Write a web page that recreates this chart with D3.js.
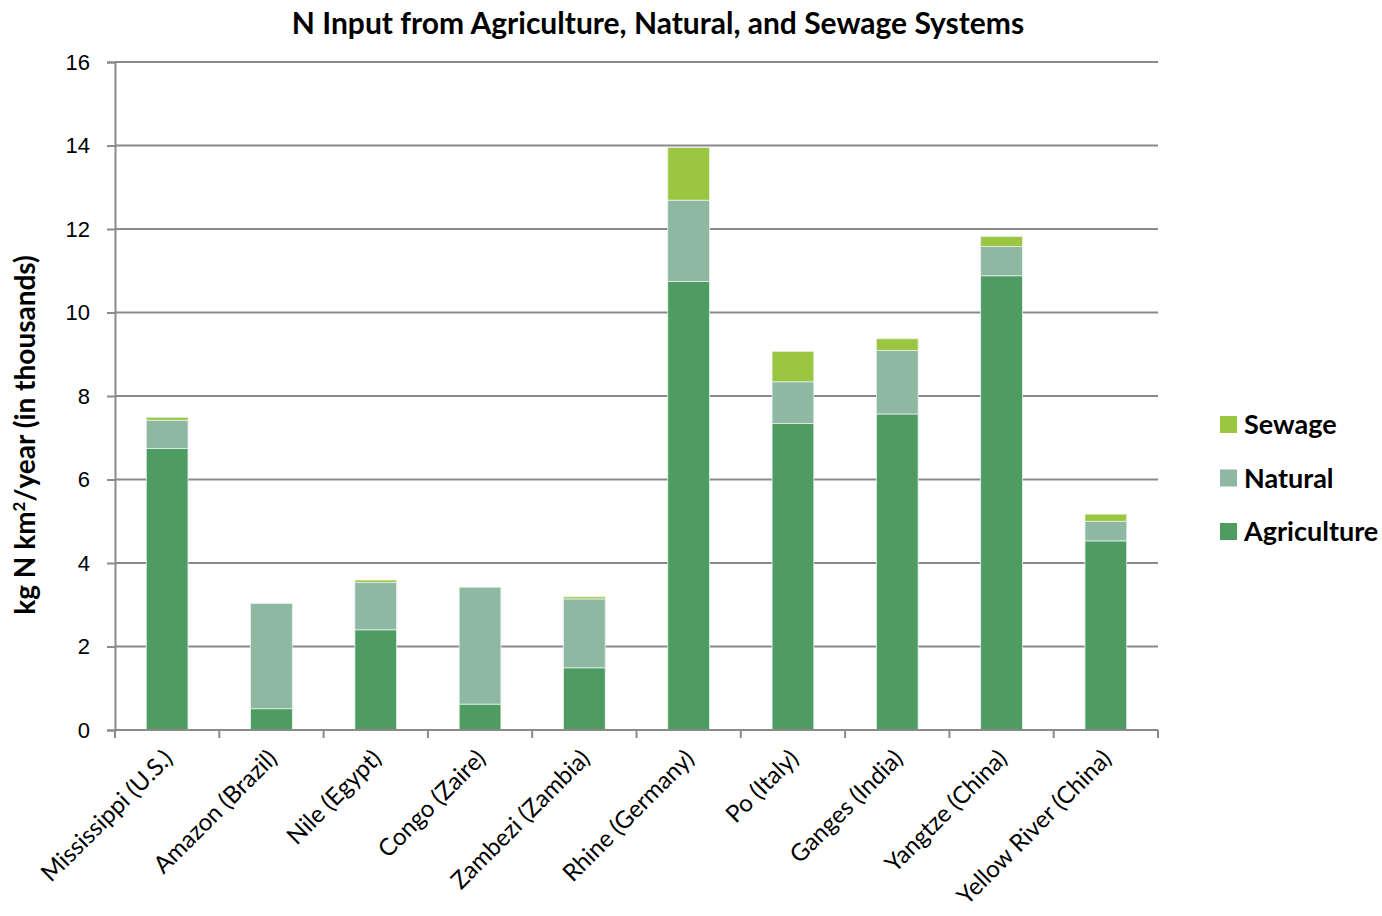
<!DOCTYPE html>
<html lang="en">
<head>
    <meta charset="UTF-8">
    <title>N Input from Agriculture, Natural, and Sewage Systems</title>
    <script src="https://d3js.org/d3.v7.min.js"></script>
    <style>
        body { margin: 0; background: #fff; }
        svg { font-family: Lato, "Open Sans", sans-serif; }
        .tick text { font-size: 22px; fill: #000; }
        .legend-label { font-size: 27px; font-weight: bold; }
    </style>
</head>
<body>
    <svg id="chart" width="1382" height="916"></svg>
    <script>
        // river basins and their N inputs (thousands of kg N / km2 / year)
        const rivers = ["Mississippi (U.S.)", "Amazon (Brazil)", "Nile (Egypt)", "Congo (Zaire)",
            "Zambezi (Zambia)", "Rhine (Germany)", "Po (Italy)", "Ganges (India)",
            "Yangtze (China)", "Yellow River (China)"];
        const agriculture = [6.74, 0.51, 2.40, 0.62, 1.49, 10.74, 7.34, 7.57, 10.88, 4.53];
        const natural = [0.68, 2.52, 1.13, 2.80, 1.65, 1.95, 1.00, 1.52, 0.70, 0.47];
        const sewage = [0.07, 0.00, 0.06, 0.00, 0.05, 1.26, 0.73, 0.28, 0.24, 0.17];
        const seriesNames = ["Agriculture", "Natural", "Sewage"];
        const yTicks = [0, 2, 4, 6, 8, 10, 12, 14, 16];

        const colors = { Agriculture: "#4f9c63", Natural: "#8eb8a2", Sewage: "#9ac641" };

        const margin = { top: 62, right: 224, bottom: 186, left: 115 };
        const width = 1382, height = 916;
        const svg = d3.select("#chart");

        const table = rivers.map((r, i) => ({
            river: r, Agriculture: agriculture[i], Natural: natural[i], Sewage: sewage[i]
        }));
        const stacked = d3.stack().keys(seriesNames)(table);

        const x = d3.scaleBand()
            .domain(rivers)
            .range([margin.left, width - margin.right])
            .paddingInner(0.6)
            .paddingOuter(0.3);
        const y = d3.scaleLinear()
            .domain([0, 16])
            .range([height - margin.bottom, margin.top]);

        // gridlines
        svg.append("g")
            .selectAll("line")
            .data(yTicks)
            .join("line")
            .attr("x1", margin.left)
            .attr("x2", width - margin.right)
            .attr("y1", d => y(d))
            .attr("y2", d => y(d))
            .attr("stroke", "#8a8a8a")
            .attr("stroke-width", 2);

        // bars
        svg.append("g")
            .selectAll("g")
            .data(stacked)
            .join("g")
            .attr("fill", d => colors[d.key])
            .selectAll("rect")
            .data(d => d)
            .join("rect")
            .attr("x", d => x(d.data.river))
            .attr("width", x.bandwidth())
            .attr("y", d => y(d[1]))
            .attr("height", d => Math.max(0, y(d[0]) - y(d[1])))
            .attr("stroke", "#e6f0ea")
            .attr("stroke-width", 0.8);

        // y axis
        const yAxis = svg.append("g")
            .attr("transform", `translate(${margin.left},0)`)
            .call(d3.axisLeft(y).tickValues(yTicks).tickSize(8).tickPadding(17).tickFormat(d3.format("d")));
        yAxis.select(".domain").attr("stroke", "#8a8a8a").attr("stroke-width", 2);
        yAxis.selectAll(".tick line").attr("stroke", "#8a8a8a").attr("stroke-width", 2);

        // x axis: ticks at category boundaries
        const step = x.step();
        const boundaries = d3.range(rivers.length + 1).map(i => margin.left + i * step);
        svg.append("line")
            .attr("x1", margin.left).attr("x2", width - margin.right)
            .attr("y1", y(0)).attr("y2", y(0))
            .attr("stroke", "#8a8a8a").attr("stroke-width", 2);
        svg.append("g")
            .selectAll("line")
            .data(boundaries)
            .join("line")
            .attr("x1", d => d).attr("x2", d => d)
            .attr("y1", y(0)).attr("y2", y(0) + 8)
            .attr("stroke", "#8a8a8a").attr("stroke-width", 2);

        svg.append("g")
            .selectAll("text")
            .data(rivers)
            .join("text")
            .attr("transform", d => `translate(${x(d) + x.bandwidth() / 2 + 7},${y(0) + 30}) rotate(-45)`)
            .attr("text-anchor", "end")
            .attr("font-size", 24)
            .text(d => d);

        // title
        svg.append("text")
            .attr("x", 658)
            .attr("y", 34)
            .attr("text-anchor", "middle")
            .attr("font-size", 30)
            .attr("font-weight", "bold")
            .text("N Input from Agriculture, Natural, and Sewage Systems");

        // y label
        svg.append("text")
            .attr("transform", `translate(35,435) rotate(-90)`)
            .attr("text-anchor", "middle")
            .attr("font-size", 28)
            .attr("font-weight", "bold")
            .html("kg N km<tspan baseline-shift='super' font-size='17'>2</tspan>/year (in thousands)");

        // legend
        const legendItems = ["Sewage", "Natural", "Agriculture"];
        const legend = svg.append("g")
            .selectAll("g")
            .data(legendItems)
            .join("g")
            .attr("transform", (d, i) => `translate(1220,${424 + i * 53.5})`);
        legend.append("rect")
            .attr("x", 0).attr("y", -8)
            .attr("width", 17).attr("height", 17)
            .attr("fill", d => colors[d]);
        legend.append("text")
            .attr("class", "legend-label")
            .attr("x", 24)
            .attr("y", 10)
            .text(d => d);
    </script>
</body>
</html>
